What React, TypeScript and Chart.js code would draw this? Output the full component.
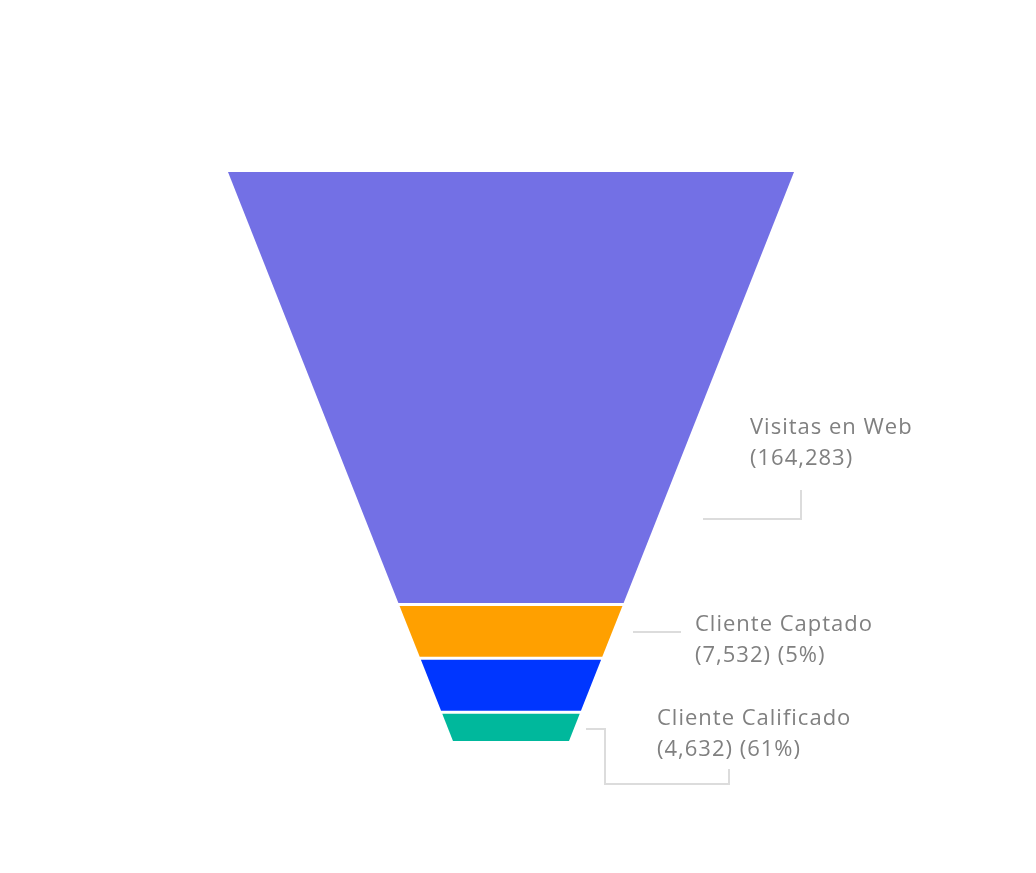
import React, { useEffect, useRef } from "react";
import { Chart, registerables } from "chart.js";

Chart.register(...registerables);

// ---- data ----
const categories = ["Visitas en Web", "Cliente Captado", "", "Cliente Calificado"];
const values = [164283, 7532, 7532, 4632];
const colors = ["#7370E5", "#FFA000", "#0036FF", "#00B89C"];

// ---- display transform (slice height in scale units) ----
const sliceHeight = (v: number) => 1.758 * Math.pow(v, 0.47) - 65.7;
const GAP = 3;
const BOTTOM_RATIO = 0.205;

const heights = values.map(sliceHeight);
const total = heights.reduce((a, b) => a + b, 0) + GAP * (values.length - 1);
const halfW = (y: number) => 1 - (1 - BOTTOM_RATIO) * (y / total);

const starts: number[] = [];
{
  let acc = 0;
  heights.forEach((h) => {
    starts.push(acc);
    acc += h + GAP;
  });
}

const datasets = values.map((v, i) => {
  const y0 = starts[i];
  const y1 = starts[i] + heights[i];
  return {
    label: categories[i],
    data: [
      { x: -halfW(y0), y: y0 },
      { x: halfW(y0), y: y0 },
      { x: halfW(y1), y: y1 },
      { x: -halfW(y1), y: y1 },
      { x: -halfW(y0), y: y0 },
    ],
    showLine: true,
    fill: "shape" as const,
    backgroundColor: colors[i],
    borderColor: colors[i],
    borderWidth: 0,
    pointRadius: 0,
    pointHoverRadius: 0,
    tension: 0,
    clip: false as const,
  };
});

// label layout (canvas px): text anchor + leader polyline
const LABEL_LAYOUT: ({ tx: number; ty: number; leader: [number, number][] } | null)[] = [
  { tx: 742, ty: 420, leader: [[695, 511], [793, 511], [793, 482]] },
  { tx: 687, ty: 617, leader: [[625, 624], [673, 624]] },
  null,
  { tx: 649, ty: 711, leader: [[578, 721], [597, 721], [597, 776], [721, 776], [721, 761]] },
];

const fmt = (n: number) => n.toLocaleString("en-US");

const labelPlugin = {
  id: "funnelLabels",
  afterDatasetsDraw(chart: any) {
    const ctx = chart.ctx as CanvasRenderingContext2D;
    ctx.save();
    values.forEach((v, i) => {
      const lay = LABEL_LAYOUT[i];
      if (!lay || !categories[i]) return;
      ctx.strokeStyle = "#dcdcdc";
      ctx.lineWidth = 2;
      ctx.beginPath();
      lay.leader.forEach(([x, y], k) => (k === 0 ? ctx.moveTo(x, y) : ctx.lineTo(x, y)));
      ctx.stroke();
      ctx.fillStyle = "#808080";
      ctx.font = "22px 'Open Sans'";
      (ctx as any).letterSpacing = "1px";
      ctx.textBaseline = "middle";
      ctx.textAlign = "left";
      ctx.fillText(categories[i], lay.tx, lay.ty);
      let second = `(${fmt(v)})`;
      if (i > 0) second += ` (${Math.round((v / values[i - 1]) * 100)}%)`;
      ctx.fillText(second, lay.tx, lay.ty + 31);
    });
    ctx.restore();
  },
};

export default function App() {
  const ref = useRef<HTMLCanvasElement | null>(null);
  useEffect(() => {
    if (!ref.current) return;
    const chart = new Chart(ref.current, {
      type: "scatter",
      data: { datasets: datasets as any },
      options: {
        responsive: false,
        animation: false,
        layout: { padding: { left: 220, right: 234, top: 164, bottom: 124 } },
        scales: {
          x: { type: "linear", min: -1, max: 1, display: false },
          y: { type: "linear", min: 0, max: total, reverse: true, display: false },
        },
        plugins: { legend: { display: false }, tooltip: { enabled: false } },
      },
      plugins: [labelPlugin],
    });
    return () => chart.destroy();
  }, []);
  return (
    <div style={{ width: 1020, height: 857 }}>
      <canvas ref={ref} width={1020} height={857} style={{ display: "block" }} />
    </div>
  );
}
